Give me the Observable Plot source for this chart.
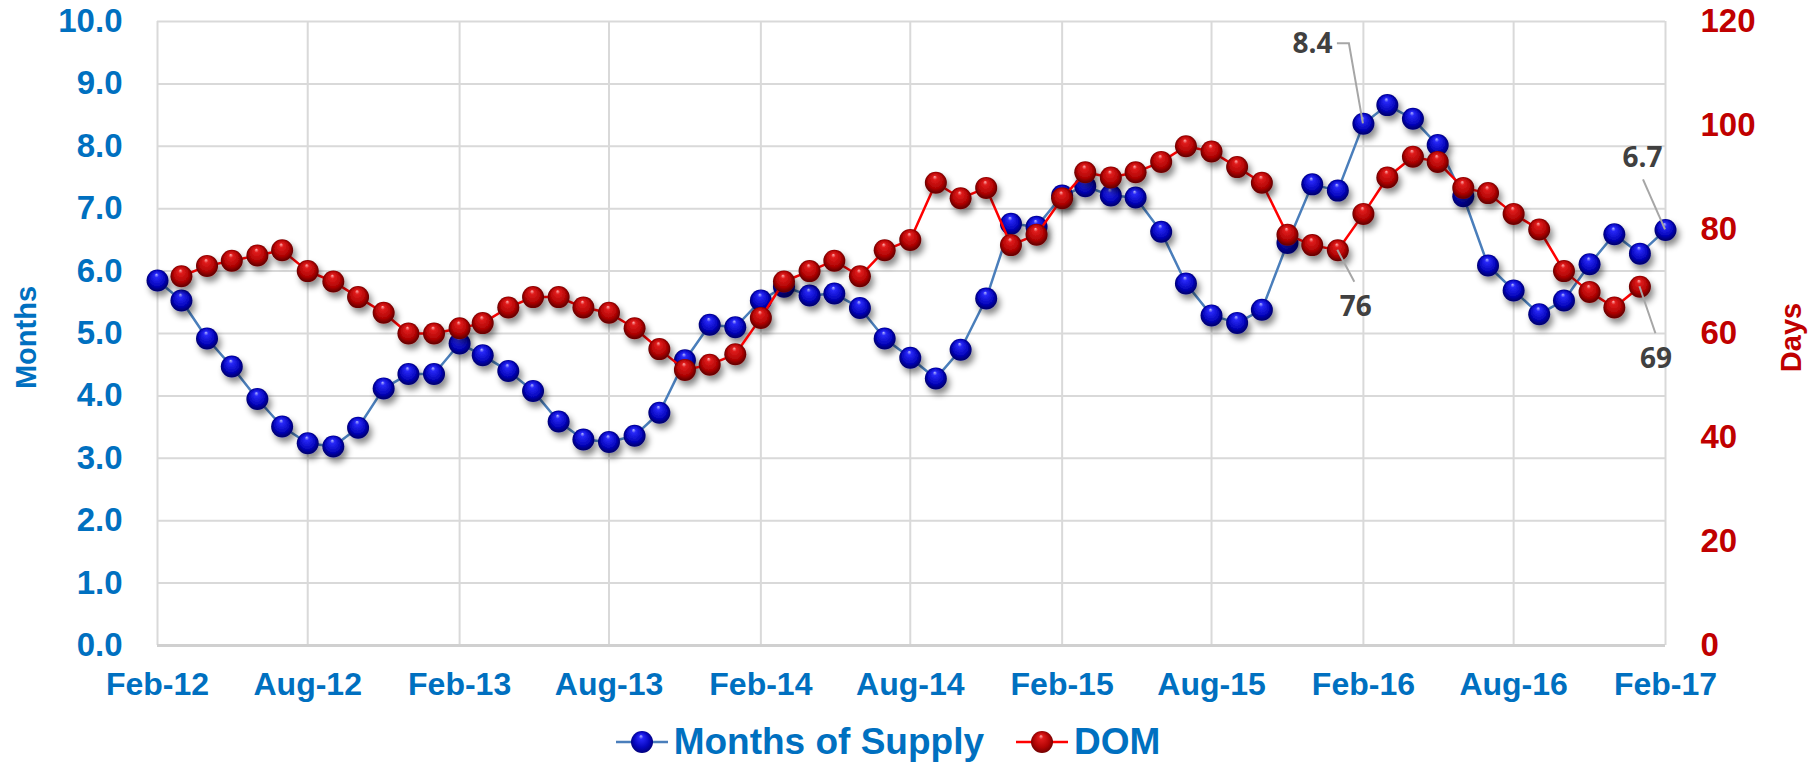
<!DOCTYPE html>
<html>
<head>
<meta charset="utf-8">
<script src="https://cdn.jsdelivr.net/npm/d3@7"></script>
<script src="https://cdn.jsdelivr.net/npm/@observablehq/plot@0.6"></script>
<style>
  html, body { margin: 0; padding: 0; background: #fff; }
  body { width: 1820px; height: 763px; overflow: hidden; font-family: "Liberation Sans", Arial, sans-serif; }
  #chart svg text { font-weight: bold; }
  #legend { display: flex; justify-content: center; align-items: center; height: 42px; padding-top: 16px; padding-right: 44px;
            font-weight: bold; font-size: 37px; color: #0070C0; font-family: "Liberation Sans", Arial, sans-serif; }
  .item { display: flex; align-items: center; white-space: nowrap; }
  .item svg { margin-right: 6px; }
  .item + .item { margin-left: 32px; }
</style>
</head>
<body>
<div id="chart"></div>
<div id="legend"></div>
<script>
// ---------------- data ----------------
const monthLabels = ("Feb-12 Mar-12 Apr-12 May-12 Jun-12 Jul-12 Aug-12 Sep-12 Oct-12 Nov-12 Dec-12 Jan-13 " +
  "Feb-13 Mar-13 Apr-13 May-13 Jun-13 Jul-13 Aug-13 Sep-13 Oct-13 Nov-13 Dec-13 Jan-14 " +
  "Feb-14 Mar-14 Apr-14 May-14 Jun-14 Jul-14 Aug-14 Sep-14 Oct-14 Nov-14 Dec-14 Jan-15 " +
  "Feb-15 Mar-15 Apr-15 May-15 Jun-15 Jul-15 Aug-15 Sep-15 Oct-15 Nov-15 Dec-15 Jan-16 " +
  "Feb-16 Mar-16 Apr-16 May-16 Jun-16 Jul-16 Aug-16 Sep-16 Oct-16 Nov-16 Dec-16 Jan-17 Feb-17").split(" ");

const monthsOfSupply = [
  5.85, 5.53, 4.92, 4.47, 3.95, 3.51, 3.24, 3.19, 3.49, 4.12, 4.35, 4.35,
  4.84, 4.65, 4.40, 4.08, 3.59, 3.30, 3.26, 3.36, 3.73, 4.57, 5.14, 5.10,
  5.53, 5.75, 5.61, 5.64, 5.41, 4.92, 4.61, 4.28, 4.74, 5.56, 6.76, 6.71,
  7.21, 7.36, 7.21, 7.18, 6.63, 5.80, 5.29, 5.17, 5.38, 6.45, 7.39, 7.29,
  8.36, 8.66, 8.44, 8.02, 7.20, 6.09, 5.69, 5.31, 5.53, 6.11, 6.59, 6.28,
  6.66
];

const daysOnMarket = [
  null, 71, 73, 74, 75, 76, 72, 70, 67, 64, 60, 60,
  61, 62, 65, 67, 67, 65, 64, 61, 57, 53, 54, 56,
  63, 70, 72, 74, 71, 76, 78, 89, 86, 88, 77, 79,
  86, 91, 90, 91, 93, 96, 95, 92, 89, 79, 77, 76,
  83, 90, 94, 93, 88, 87, 83, 80, 72, 68, 65, 69,
  null
];

const xTickLabels = ["Feb-12", "Aug-12", "Feb-13", "Aug-13", "Feb-14", "Aug-14", "Feb-15", "Aug-15", "Feb-16", "Aug-16", "Feb-17"];
const leftTickLabels = ["0.0", "1.0", "2.0", "3.0", "4.0", "5.0", "6.0", "7.0", "8.0", "9.0", "10.0"];
const rightTickLabels = ["0", "20", "40", "60", "80", "100", "120"];
const seriesNames = ["Months of Supply", "DOM"];
const axisTitles = ["Months", "Days"];
// data labels: [series, month]
const labelledPoints = [["mos", "Feb-16"], ["mos", "Feb-17"], ["dom", "Jan-16"], ["dom", "Jan-17"]];

// ---------------- setup ----------------
const parseMonth = d3.utcParse("%b-%y");
const leftMax = +leftTickLabels[leftTickLabels.length - 1];
const rightMax = +rightTickLabels[rightTickLabels.length - 1];
const daysPerUnit = rightMax / leftMax; // right axis shares the left axis range

const mosRows = monthLabels.map((m, i) => ({month: m, date: parseMonth(m), value: monthsOfSupply[i], label: monthsOfSupply[i].toFixed(1)}));
const domRows = monthLabels.map((m, i) => ({month: m, date: parseMonth(m), days: daysOnMarket[i]}))
  .filter(d => d.days != null)
  .map(d => ({...d, value: d.days / daysPerUnit, label: String(d.days)}));

const xTicks = xTickLabels.map(parseMonth);
const leftTicks = leftTickLabels.map(Number);
const rightTicks = rightTickLabels.map(d => +d / daysPerUnit);

const BLUE_TEXT = "#0070C0", RED_TEXT = "#C00000", GRID = "#d9d9d9";
const FONT = '"Liberation Sans", Arial, sans-serif';

function findRow(key, month) {
  return (key === "mos" ? mosRows : domRows).find(d => d.month === month);
}

function labelMark(key, month, dx, dy) {
  return Plot.text([findRow(key, month)], {
    x: "date", y: "value", text: "label", dx, dy,
    fontSize: 28, fill: "#404040", fontFamily: '"Open Sans", "Liberation Sans", sans-serif', fontWeight: "bold"
  });
}

function leaderMark(key, month, offsets) {
  const row = findRow(key, month);
  return (index, scales) => {
    const x0 = scales.x(row.date), y0 = scales.y(row.value);
    const p = document.createElementNS("http://www.w3.org/2000/svg", "path");
    p.setAttribute("d", "M" + [[0, 0], ...offsets].map(([dx, dy]) => `${x0 + dx},${y0 + dy}`).join("L"));
    p.setAttribute("fill", "none");
    p.setAttribute("stroke", "#a6a6a6");
    p.setAttribute("stroke-width", "2");
    return p;
  };
}

const chart = Plot.plot({
  width: 1820,
  height: 705,
  marginLeft: 157,
  marginRight: 155,
  marginTop: 21,
  marginBottom: 60,
  style: {fontFamily: FONT, background: "#fff", overflow: "visible"},
  x: {type: "utc", domain: [xTicks[0], xTicks[xTicks.length - 1]]},
  y: {domain: [0, leftMax]},
  marks: [
    Plot.gridX(xTicks, {stroke: GRID, strokeOpacity: 1, strokeWidth: 2}),
    Plot.gridY(leftTicks, {stroke: GRID, strokeOpacity: 1, strokeWidth: 2}),
    Plot.ruleY([0], {stroke: "#d0d0d0", strokeWidth: 3}),
    Plot.axisX(xTicks, {tickSize: 0, tickPadding: 27, tickFormat: d3.utcFormat("%b-%y"), fontSize: 32, fontWeight: "bold", color: BLUE_TEXT, label: null}),
    Plot.axisY(leftTicks, {anchor: "left", tickSize: 0, tickPadding: 35, tickFormat: d3.format(".1f"), fontSize: 33, fontWeight: "bold", color: BLUE_TEXT, label: null}),
    Plot.axisY(rightTicks, {anchor: "right", tickSize: 0, tickPadding: 35, tickFormat: d => String(Math.round(d * daysPerUnit)), fontSize: 33, fontWeight: "bold", color: RED_TEXT, label: null}),
    Plot.text([axisTitles[0]], {frameAnchor: "left", textAnchor: "middle", lineAnchor: "middle", rotate: -90, dx: -131, dy: 4, fontSize: 29, fontWeight: "bold", fill: BLUE_TEXT}),
    Plot.text([axisTitles[1]], {frameAnchor: "right", textAnchor: "middle", lineAnchor: "middle", rotate: -90, dx: 126, dy: 4, fontSize: 29, fontWeight: "bold", fill: RED_TEXT}),
    Plot.line(mosRows, {x: "date", y: "value", stroke: "#4A7EBB", strokeWidth: 2.5}),
    Plot.dot(mosRows, {x: "date", y: "value", r: 11, fill: "#1010d0", stroke: "none"}),
    Plot.line(domRows, {x: "date", y: "value", stroke: "#FF0000", strokeWidth: 2.5}),
    Plot.dot(domRows, {x: "date", y: "value", r: 11, fill: "#c00000", stroke: "none"}),
    leaderMark(...labelledPoints[0], [[-14, -80], [-26, -80]]),
    leaderMark(...labelledPoints[1], [[-22, -50]]),
    leaderMark(...labelledPoints[2], [[17, 32]]),
    leaderMark(...labelledPoints[3], [[16, 47]]),
    labelMark(...labelledPoints[0], -51, -80),
    labelMark(...labelledPoints[1], -23, -72),
    labelMark(...labelledPoints[2], 18, 57),
    labelMark(...labelledPoints[3], 16, 72)
  ]
});

const defs = `
<defs>
  <radialGradient id="ballBlue" cx="0.5" cy="0.5" r="0.55" fx="0.45" fy="0.22">
    <stop offset="0" stop-color="#b4b8ff"/>
    <stop offset="0.18" stop-color="#2828f8"/>
    <stop offset="0.65" stop-color="#0606bc"/>
    <stop offset="0.9" stop-color="#000070"/>
    <stop offset="1" stop-color="#1a1aa0"/>
  </radialGradient>
  <radialGradient id="ballRed" cx="0.5" cy="0.5" r="0.55" fx="0.45" fy="0.22">
    <stop offset="0" stop-color="#ffb0b0"/>
    <stop offset="0.18" stop-color="#e01c1c"/>
    <stop offset="0.65" stop-color="#b00404"/>
    <stop offset="0.9" stop-color="#660000"/>
    <stop offset="1" stop-color="#a01a1a"/>
  </radialGradient>
  <filter id="ballShadow" x="-50%" y="-50%" width="200%" height="200%">
    <feDropShadow dx="3" dy="5" stdDeviation="3" flood-color="#000" flood-opacity="0.45"/>
  </filter>
</defs>`;
chart.insertAdjacentHTML("afterbegin", defs);
const dotGroups = chart.querySelectorAll('g[aria-label="dot"]');
if (dotGroups[0]) { dotGroups[0].setAttribute("fill", "url(#ballBlue)"); dotGroups[0].setAttribute("filter", "url(#ballShadow)"); }
if (dotGroups[1]) { dotGroups[1].setAttribute("fill", "url(#ballRed)"); dotGroups[1].setAttribute("filter", "url(#ballShadow)"); }
document.getElementById("chart").appendChild(chart);

// ---------------- legend ----------------
const legendColors = [["#4A7EBB", "legBlue", ["#b4b8ff", "#2828f8", "#0606bc", "#000070"]], ["#FF0000", "legRed", ["#ffb0b0", "#e01c1c", "#b00404", "#660000"]]];
const legend = document.getElementById("legend");
seriesNames.forEach((name, i) => {
  const [line, id, stops] = legendColors[i];
  const item = document.createElement("div");
  item.className = "item";
  item.innerHTML = `<svg width="52" height="26" viewBox="0 0 52 26">
    <defs><radialGradient id="${id}" cx="0.5" cy="0.5" r="0.55" fx="0.45" fy="0.22">
      <stop offset="0" stop-color="${stops[0]}"/><stop offset="0.18" stop-color="${stops[1]}"/>
      <stop offset="0.65" stop-color="${stops[2]}"/><stop offset="1" stop-color="${stops[3]}"/></radialGradient></defs>
    <line x1="0" y1="13" x2="52" y2="13" stroke="${line}" stroke-width="2.5"/>
    <circle cx="26" cy="13" r="11" fill="url(#${id})"/></svg><span>${name}</span>`;
  legend.appendChild(item);
});
</script>
</body>
</html>
